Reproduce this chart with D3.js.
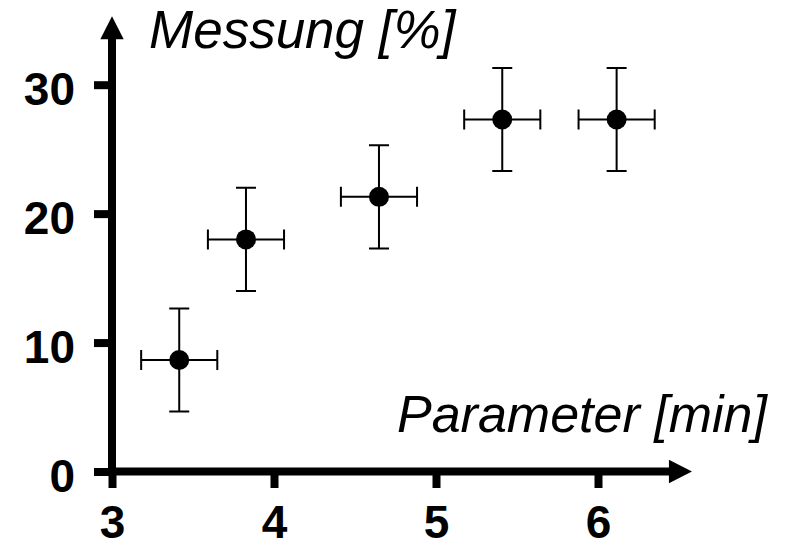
<!DOCTYPE html>
<html>
<head>
<meta charset="utf-8">
<script src="https://cdn.jsdelivr.net/npm/d3@7.9.0/dist/d3.min.js"></script>
<style>
    body { margin: 0; background: #fff; }
    svg { display: block; font-family: 'Liberation Sans', Arial, sans-serif; }
    .tick text { font-size: 46px; font-weight: bold; fill: #000; }
    .tick line { stroke: #000; stroke-width: 8; }
    .title { font-size: 52px; font-style: italic; fill: #000; }
</style>
</head>
<body>
<div id="chart"></div>
<script>
// measured points (parameter in min, measurement in %)
const xValues = [3.415, 3.827, 4.648, 5.409, 6.115];
const yValues = [8.65, 18.0, 21.3, 27.3, 27.3];
const xErrors = [0.235, 0.235, 0.235, 0.235, 0.235];
const yErrors = [4.0, 4.0, 4.0, 4.0, 4.0];

const xTicks = [3, 4, 5, 6];
const yTicks = [0, 10, 20, 30];

const xTitle = 'Parameter [min]';
const yTitle = 'Messung [%]';

// where the axis arrows end, in data units
const xArrowEnd = 6.58;
const yArrowEnd = 35.3;

const points = xValues.map((x, i) => ({
    x,
    y: yValues[i],
    ex: xErrors[i],
    ey: yErrors[i],
}));

const width = 789;
const height = 544;

const svg = d3.select('#chart')
    .append('svg')
    .attr('width', width)
    .attr('height', height);

const xScale = d3.scaleLinear()
    .domain([3, 6])
    .range([112, 598]);

const yScale = d3.scaleLinear()
    .domain([0, 30])
    .range([471.5, 84.7]);

const x0 = xScale(3);
const y0 = yScale(0);

// Axes (ticks + labels)
const yAxis = d3.axisLeft(yScale)
    .tickValues(yTicks)
    .tickSize(18)
    .tickPadding(19)
    .tickFormat(d3.format('d'));

const xAxis = d3.axisBottom(xScale)
    .tickValues(xTicks)
    .tickSize(16.5)
    .tickPadding(17)
    .tickFormat(d3.format('d'));

svg.append('g')
    .attr('transform', `translate(${x0}, 0)`)
    .call(yAxis)
    .call(g => g.select('.domain').remove())
    .call(g => g.selectAll('.tick text').attr('dy', '0.44em'));

svg.append('g')
    .attr('transform', `translate(0, ${y0})`)
    .call(xAxis)
    .call(g => g.select('.domain').remove())
    .call(g => g.selectAll('.tick text').attr('dy', '0.71em'));

// Axis lines with arrow heads
const head = 23;
const half = 11.7;
const yTip = yScale(yArrowEnd);
const xTip = xScale(xArrowEnd);

svg.append('line')
    .attr('x1', x0).attr('x2', x0)
    .attr('y1', y0 + 4).attr('y2', yTip + head - 1)
    .attr('stroke', '#000')
    .attr('stroke-width', 8);

svg.append('line')
    .attr('x1', x0 - 4).attr('x2', xTip - head + 1)
    .attr('y1', y0).attr('y2', y0)
    .attr('stroke', '#000')
    .attr('stroke-width', 8);

svg.append('path')
    .attr('d', `M${x0},${yTip}L${x0 + half},${yTip + head}L${x0 - half},${yTip + head}Z`)
    .attr('fill', '#000');

svg.append('path')
    .attr('d', `M${xTip},${y0}L${xTip - head},${y0 - half}L${xTip - head},${y0 + half}Z`)
    .attr('fill', '#000');

// Axis titles
svg.append('text')
    .attr('class', 'title')
    .attr('x', 149)
    .attr('y', 47.7)
    .style('font-size', '53px')
    .text(yTitle);

svg.append('text')
    .attr('class', 'title')
    .attr('x', 397)
    .attr('y', 432)
    .text(xTitle);

// Error bars
const cap = 10;
const bars = svg.append('g')
    .attr('stroke', '#000')
    .attr('stroke-width', 2)
    .attr('fill', 'none');

const bar = bars.selectAll('g')
    .data(points)
    .join('g');

bar.append('path')
    .attr('d', d => {
        const cx = xScale(d.x);
        const top = yScale(d.y + d.ey);
        const bottom = yScale(d.y - d.ey);
        return `M${cx},${top}V${bottom}M${cx - cap},${top}H${cx + cap}M${cx - cap},${bottom}H${cx + cap}`;
    });

bar.append('path')
    .attr('d', d => {
        const cy = yScale(d.y);
        const left = xScale(d.x - d.ex);
        const right = xScale(d.x + d.ex);
        return `M${left},${cy}H${right}M${left},${cy - cap}V${cy + cap}M${right},${cy - cap}V${cy + cap}`;
    });

// Dots
svg.append('g')
    .selectAll('circle')
    .data(points)
    .join('circle')
    .attr('cx', d => xScale(d.x))
    .attr('cy', d => yScale(d.y))
    .attr('r', 10)
    .attr('fill', '#000');
</script>
</body>
</html>
